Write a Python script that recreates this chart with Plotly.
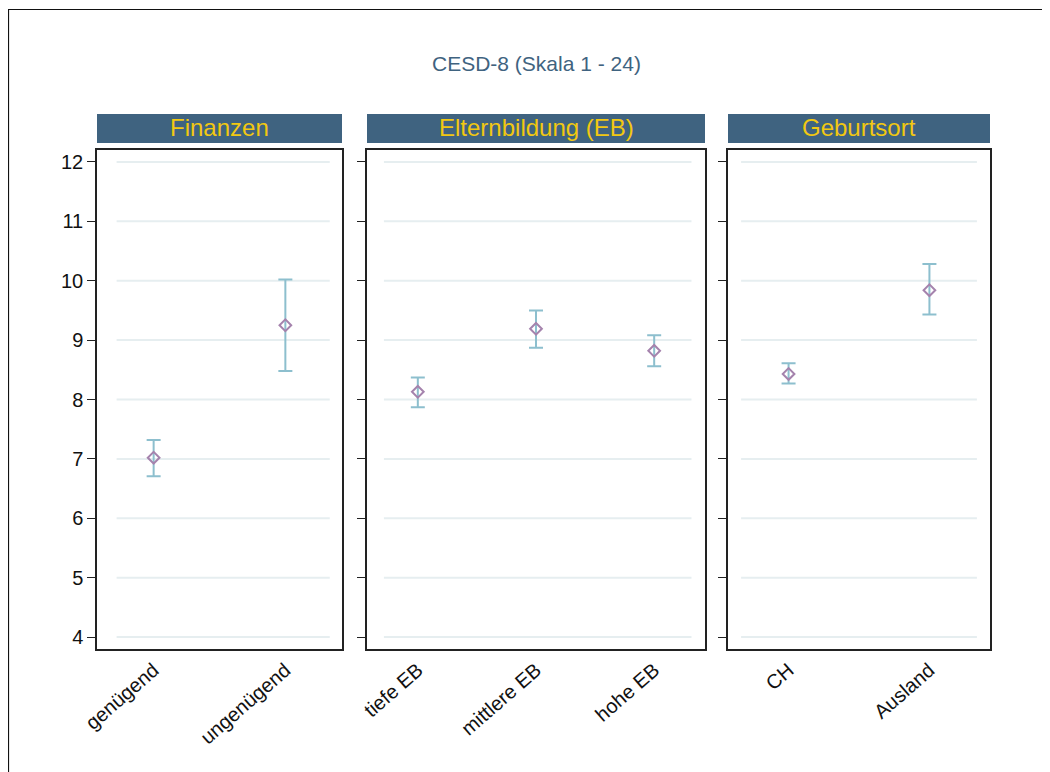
import plotly.graph_objects as go

OFF = 8  # browser body margin
W, H = 1050 - OFF, 772 - OFF

panel_titles = ["Finanzen", "Elternbildung (EB)", "Geburtsort"]
categories = [
    ["genügend", "ungenügend"],
    ["tiefe EB", "mittlere EB", "hohe EB"],
    ["CH", "Ausland"],
]
means = [
    [7.02, 9.25],
    [8.13, 9.19, 8.82],
    [8.43, 9.84],
]
ci_upper = [
    [7.32, 10.02],
    [8.37, 9.50, 9.08],
    [8.61, 10.28],
]
ci_lower = [
    [6.71, 8.48],
    [7.87, 8.87, 8.56],
    [8.27, 9.43],
]
y_ticks = [4, 5, 6, 7, 8, 9, 10, 11, 12]
title_text = "CESD-8 (Skala 1 - 24)"

# layout (target pixels)
panel_px = [(97, 342), (367, 705), (728, 990)]
grid_dom = [(0.08, 0.95), (0.05, 0.96), (0.05, 0.95)]
box_top, box_bottom = 150, 649
hdr_top, hdr_bottom = 114, 143

def px(x):
    return (x - OFF) / W

def py(y):
    return 1 - (y - OFF) / H

font_family = "Liberation Sans, Arial, sans-serif"
err_color = "#8dbfce"
mk_color = "#a583ad"
hdr_fill = "#3f6380"
hdr_text = "#f2c811"

fig = go.Figure()
layout = dict(
    width=W, height=H,
    margin=dict(l=0, r=0, t=0, b=0),
    paper_bgcolor="white", plot_bgcolor="white",
    showlegend=False,
    font=dict(family=font_family, size=20, color="#111"),
)
shapes = []
annotations = []

for i, (x0, x1) in enumerate(panel_px):
    n = "" if i == 0 else str(i + 1)
    xa, ya = "x" + n, "y" + n
    cats = categories[i]
    xs = list(range(len(cats)))
    fig.add_trace(go.Scatter(
        x=xs, y=means[i], xaxis=xa, yaxis=ya, mode="markers",
        marker=dict(symbol="diamond-open", size=9, color=mk_color, line=dict(width=2, color=mk_color)),
        error_y=dict(type="data", symmetric=False,
                     array=[u - m for u, m in zip(ci_upper[i], means[i])],
                     arrayminus=[m - l for l, m in zip(ci_lower[i], means[i])],
                     color=err_color, thickness=2, width=7),
        hoverinfo="skip",
    ))
    layout["xaxis" + n] = dict(
        domain=[px(x0), px(x1)], anchor=ya,
        range=[-0.43, len(cats) - 1 + 0.43],
        tickmode="array", tickvals=xs, ticktext=cats, tickangle=-41,
        ticks="", showgrid=False, zeroline=False,
        showline=True, mirror=True, linecolor="#222", linewidth=1.5,
        tickfont=dict(size=20, color="#111"), automargin=False,
    )
    layout["yaxis" + n] = dict(
        domain=[py(box_bottom), py(box_top)], anchor=xa,
        range=[3.8, 12.2], tickmode="array", tickvals=y_ticks,
        ticks="outside", ticklen=8, tickwidth=1.2, tickcolor="#222",
        showticklabels=(i == 0), showgrid=False, zeroline=False,
        showline=True, mirror=True, linecolor="#222", linewidth=1.5,
        tickfont=dict(size=20, color="#111"), automargin=False,
    )
    # light grid lines (inset)
    g0, g1 = grid_dom[i]
    for t in y_ticks:
        shapes.append(dict(type="line", xref=xa + " domain", yref=ya,
                           x0=g0, x1=g1, y0=t, y1=t,
                           line=dict(color="#e6eef0", width=2), layer="below"))
    # header
    shapes.append(dict(type="rect", xref="paper", yref="paper",
                       x0=px(x0), x1=px(x1), y0=py(hdr_bottom), y1=py(hdr_top),
                       fillcolor=hdr_fill, line=dict(width=0)))
    annotations.append(dict(text=panel_titles[i], xref="paper", yref="paper",
                            x=(px(x0) + px(x1)) / 2, y=py(127),
                            showarrow=False, xanchor="center", yanchor="middle",
                            font=dict(size=24, color=hdr_text, family=font_family)))

# outer frame
shapes.append(dict(type="rect", xref="paper", yref="paper",
                   x0=px(8.5), x1=1.05, y0=-0.05, y1=py(9.5),
                   line=dict(color="#111", width=1.2), fillcolor="rgba(0,0,0,0)"))

annotations.append(dict(text=title_text, xref="paper", yref="paper",
                        x=px(536), y=py(63), showarrow=False,
                        xanchor="center", yanchor="middle",
                        font=dict(size=21, color="#3f6380", family=font_family)))

layout["shapes"] = shapes
layout["annotations"] = annotations
fig.update_layout(**layout)
fig.write_html("out.html")
